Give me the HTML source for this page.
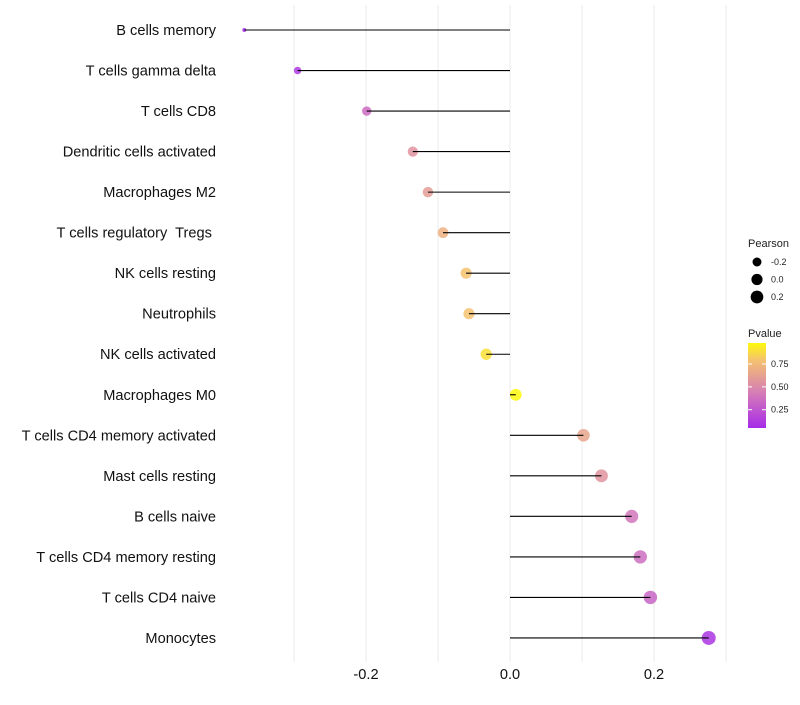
<!DOCTYPE html>
<html><head><meta charset="utf-8"><style>
body{margin:0;background:#fff;}
svg text{font-family:"Liberation Sans",sans-serif;white-space:pre;}
</style></head><body>
<svg id="chart" width="800" height="700"></svg>
<script>
const categories=["B cells memory","T cells gamma delta","T cells CD8","Dendritic cells activated","Macrophages M2","T cells regulatory  Tregs ","NK cells resting","Neutrophils","NK cells activated","Macrophages M0","T cells CD4 memory activated","Mast cells resting","B cells naive","T cells CD4 memory resting","T cells CD4 naive","Monocytes"];
const pearson=[-0.369,-0.295,-0.199,-0.135,-0.114,-0.093,-0.061,-0.057,-0.033,0.008,0.102,0.127,0.169,0.181,0.195,0.276];
const pvalues=[0.05,0.12,0.35,0.55,0.6,0.7,0.8,0.8,0.9,0.98,0.65,0.55,0.4,0.37,0.32,0.1];
const xTicks=[-0.2,0.0,0.2];
const xTickLabels=["-0.2","0.0","0.2"];
const minorTicks=[-0.3,-0.1,0.1,0.3];
const legendSizes=[-0.2,0.0,0.2];
const legendSizeLabels=["-0.2","0.0","0.2"];
const pTicks=[0.25,0.5,0.75];
const pTickLabels=["0.25","0.50","0.75"];

const NS="http://www.w3.org/2000/svg";
const svg=document.getElementById('chart');
function mk(tag,attrs,parent){const e=document.createElementNS(NS,tag);for(const k in attrs)e.setAttribute(k,attrs[k]);(parent||svg).appendChild(e);return e;}
const x=v=>510+v*720;
const y=i=>30+i*40.53;
const r=v=>{const t=Math.max(0,(v+0.369)/0.645);return Math.sqrt(4+45*Math.pow(t,0.7));};
function col(p){const a=[160,32,240],m=[215,128,180],c=[245,195,110],b=[255,255,0];
 let s,e,t;if(p<0.45){s=a;e=m;t=p/0.45;}else if(p<0.8){s=m;e=c;t=(p-0.45)/0.35;}else{s=c;e=b;t=(p-0.8)/0.2;}
 t=Math.max(0,Math.min(1,t));return `rgb(${s.map((v,k)=>Math.round(v+(e[k]-v)*t)).join(',')})`;}

minorTicks.concat(xTicks).forEach(v=>{const l=mk('line',{x1:x(v),x2:x(v),y1:5,y2:662,stroke:'#ebebeb','stroke-width':1});

});
xTicks.forEach((v,i)=>{const t=mk('text',{x:x(v),y:679,'text-anchor':'middle','font-size':14.6,fill:'#111'});t.textContent=xTickLabels[i];

});
categories.forEach((c,i)=>{
 const t=mk('text',{x:216,y:y(i)+5,'text-anchor':'end','font-size':14.6,fill:'#111'});t.textContent=c;
 
 
 const pt=mk('circle',{cx:x(pearson[i]),cy:y(i),r:r(pearson[i]),fill:col(pvalues[i]),'fill-opacity':0.85});
 
 
 const ln=mk('line',{x1:x(0),x2:x(pearson[i]),y1:y(i),y2:y(i),stroke:'#000','stroke-width':1.1});
 
 
});
const lt=mk('text',{x:748,y:247,'font-size':11,fill:'#222'});lt.textContent='Pearson';

legendSizes.forEach((v,i)=>{const cy=262+i*17.5;
 const c=mk('circle',{cx:757,cy:cy,r:r(v)*0.9+0.3,fill:'#000'});
 
 
 const t=mk('text',{x:771,y:cy+3,'font-size':9,fill:'#222'});t.textContent=legendSizeLabels[i];
 
 });
const pt2=mk('text',{x:748,y:337,'font-size':11,fill:'#222'});pt2.textContent='Pvalue';

const defs=mk('defs',{});const g=mk('linearGradient',{id:'pg',x1:0,y1:1,x2:0,y2:0},defs);
[0,0.2,0.4,0.6,0.8,1].forEach(o=>{const pv=0.05+o*0.93;mk('stop',{offset:o,'stop-color':col(pv)},g);});
const bar=mk('rect',{x:748,y:343,width:18,height:85,fill:'url(#pg)'});

const py=p=>428-(p-0.05)/0.93*85;
pTicks.forEach((p,i)=>{mk('line',{x1:748,x2:752,y1:py(p),y2:py(p),stroke:'#fff'});mk('line',{x1:762,x2:766,y1:py(p),y2:py(p),stroke:'#fff'});
 const t=mk('text',{x:771,y:py(p)+3,'font-size':9,fill:'#222'});t.textContent=pTickLabels[i];
 
 });
</script>
</body></html>
